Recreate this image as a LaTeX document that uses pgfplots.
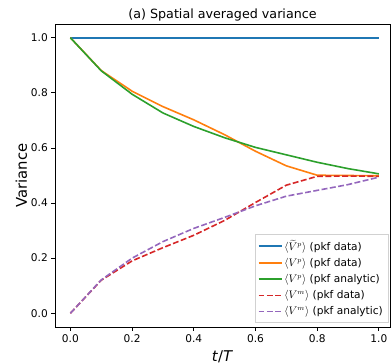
\documentclass[border=0pt]{standalone}
\usepackage{fontspec}
\setmainfont{DejaVu Sans}
\usepackage{pgfplots}
\pgfplotsset{compat=1.18}
\definecolor{c0}{HTML}{1F77B4}
\definecolor{c1}{HTML}{FF7F0E}
\definecolor{c2}{HTML}{2CA02C}
\definecolor{c3}{HTML}{D62728}
\definecolor{c4}{HTML}{9467BD}
\begin{document}
\begin{tikzpicture}
\begin{axis}[
  scale only axis, width=335pt, height=303pt,
  xmin=-0.05, xmax=1.036, ymin=-0.05, ymax=1.05,
  xtick={0,0.2,0.4,0.6,0.8,1.0}, ytick={0,0.2,0.4,0.6,0.8,1.0},
  xticklabel style={/pgf/number format/.cd, fixed, fixed zerofill, precision=1},
  yticklabel style={/pgf/number format/.cd, fixed, fixed zerofill, precision=1},
  /pgf/number format/assume math mode=true,
  tick align=outside, tick pos=left, major tick length=3.7pt,
  tick style={black, line width=0.8pt},
  axis line style={line width=0.8pt},
  ticklabel style={font=\fontsize{10.6}{12}\selectfont},
  title={(a) Spatial averaged variance},
  title style={font=\fontsize{12.7}{15}\selectfont, yshift=-7pt},
  xlabel={\textit{t}/\textit{T}}, ylabel={Variance},
  label style={font=\fontsize{14.8}{17}\selectfont},
  xlabel style={yshift=-2pt},
  ylabel style={yshift=-3pt},
  legend cell align=left,
  legend style={at={(0.994,0.0165)}, anchor=south east, draw=black!18,
    font=\fontsize{10.6}{12}\selectfont,
    row sep=2.4pt, inner xsep=3pt, inner ysep=3.5pt},
  legend image code/.code={\draw[line width=1.6pt,#1] (0pt,0pt) -- (23pt,0pt);},
]
\addplot[c0, no marks, line width=1.6pt] coordinates {(0,1) (0.1,1) (0.2,1) (0.3,1) (0.4,1) (0.5,1) (0.6,1) (0.7,1) (0.8,1) (0.9,1) (1.0,1)};
\addlegendentry{$\langle \widetilde{V}^p\rangle$ (pkf data)}
\addplot[c1, no marks, line width=1.6pt] coordinates {(0,1) (0.1,0.881) (0.2,0.806) (0.3,0.750) (0.4,0.702) (0.5,0.648) (0.6,0.588) (0.7,0.535) (0.8,0.501) (0.9,0.500) (1.0,0.499)};
\addlegendentry{$\langle V^p\rangle$ (pkf data)}
\addplot[c2, no marks, line width=1.6pt] coordinates {(0,1) (0.1,0.880) (0.2,0.795) (0.3,0.727) (0.4,0.678) (0.5,0.637) (0.6,0.602) (0.7,0.575) (0.8,0.548) (0.9,0.525) (1.0,0.506)};
\addlegendentry{$\langle V^p\rangle$ (pkf analytic)}
\addplot[c3, no marks, line width=1.6pt, dash pattern=on 5.9pt off 2.5pt, forget plot] coordinates {(0,0) (0.1,0.120) (0.2,0.190) (0.3,0.238) (0.4,0.283) (0.5,0.337) (0.6,0.402) (0.7,0.465) (0.8,0.497) (0.9,0.498) (1.0,0.497)};
\addplot[c4, no marks, line width=1.6pt, dash pattern=on 5.9pt off 2.5pt, forget plot] coordinates {(0,0) (0.1,0.121) (0.2,0.200) (0.3,0.260) (0.4,0.308) (0.5,0.348) (0.6,0.390) (0.7,0.425) (0.8,0.446) (0.9,0.467) (1.0,0.494)};
\addlegendimage{legend image code/.code={\draw[c3,line width=1.6pt] (0pt,0pt)--(5.9pt,0pt) (8.4pt,0pt)--(14.3pt,0pt) (16.8pt,0pt)--(22.7pt,0pt);}}
\addlegendentry{$\langle V^m\rangle$ (pkf data)}
\addlegendimage{legend image code/.code={\draw[c4,line width=1.6pt] (0pt,0pt)--(5.9pt,0pt) (8.4pt,0pt)--(14.3pt,0pt) (16.8pt,0pt)--(22.7pt,0pt);}}
\addlegendentry{$\langle V^m\rangle$ (pkf analytic)}
\end{axis}
\pgfresetboundingbox
\useasboundingbox (-55pt,-37pt) rectangle (336pt,327pt);
\end{tikzpicture}
\end{document}
